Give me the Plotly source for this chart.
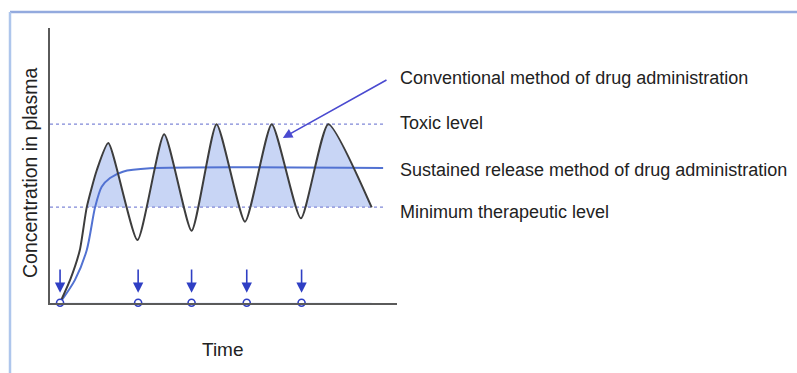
import plotly.graph_objects as go

# Plasma concentration vs time, arbitrary units (0-100 on both axes)
conv_time = [2.9, 5.8, 8.6, 10.6, 13.5, 16.8, 25.2, 32.9, 40.8, 48.0, 56.2, 63.9, 72.3, 80.2, 92.7]
conv_conc = [0.0, 8.3, 19.2, 34.8, 48.3, 58.1, 22.8, 61.3, 26.2, 65.0, 29.5, 65.0, 30.7, 65.0, 34.7]

sr_time = [2.9, 7.2, 10.6, 13.0, 14.9, 17.3, 21.0, 28.8, 96.0]
sr_conc = [0.0, 8.3, 19.2, 34.8, 42.2, 45.4, 47.7, 48.9, 49.0]

dose_times = [2.9, 25.4, 40.8, 56.7, 72.5]

toxic_level = 65.0
mtl_level = 34.8
level_span = [0.0, 96.0]

label_texts = [
    "Conventional method of drug administration",
    "Toxic level",
    "Sustained release method of drug administration",
    "Minimum therapeutic level",
]
label_conc = [81.8, 65.3, 48.3, 33.0]

pointer_tip = (67.1, 60.0)
pointer_tail = (97.4, 81.4)

x_title = "Time"
y_title = "Concentration in plasma"

W, H = 797, 373
X0, X1 = 50, 397        # plot area, px
Y0, Y1 = 302.7, 28
FONT = "Liberation Sans, Arial, sans-serif"
TEXT = "#222222"
DARK = "#3d3d3d"
BLUE = "#2f3fc4"
SR_BLUE = "#5272d2"
LEVEL_BLUE = "#8088d8"
FILL = "#c8d5f5"
SMOOTH = 0.55


def conc_to_paper(c):
    py = Y0 - c * (Y0 - Y1) / 100.0
    return (H - py) / H


fig = go.Figure()

# light fill under the conventional curve...
fig.add_trace(go.Scatter(
    x=conv_time, y=conv_conc, mode="lines",
    line=dict(width=0, shape="spline", smoothing=SMOOTH),
    fill="tozeroy", fillcolor=FILL, hoverinfo="skip",
))
# ...kept only above the minimum therapeutic level
fig.add_trace(go.Scatter(
    x=level_span, y=[mtl_level, mtl_level], mode="lines",
    line=dict(width=0), fill="tozeroy", fillcolor="white", hoverinfo="skip",
))

for lvl in (toxic_level, mtl_level):
    fig.add_trace(go.Scatter(
        x=level_span, y=[lvl, lvl], mode="lines",
        line=dict(color=LEVEL_BLUE, width=1.2, dash="dot"), hoverinfo="skip",
    ))

fig.add_trace(go.Scatter(
    x=sr_time, y=sr_conc, mode="lines",
    line=dict(color=SR_BLUE, width=2, shape="spline", smoothing=0.8),
    hoverinfo="skip",
))

fig.add_trace(go.Scatter(
    x=conv_time, y=conv_conc, mode="lines",
    line=dict(color=DARK, width=2, shape="spline", smoothing=SMOOTH),
    hoverinfo="skip",
))

fig.add_trace(go.Scatter(
    x=dose_times, y=[0] * len(dose_times), mode="markers",
    marker=dict(symbol="circle", size=7, color="white", line=dict(color=BLUE, width=1.6)),
    cliponaxis=False, hoverinfo="skip",
))

annotations = []
for t in dose_times:
    annotations.append(dict(
        x=t, y=3.6, xref="x", yref="y", ax=t, ay=12.6, axref="x", ayref="y",
        text="", showarrow=True, arrowhead=2, arrowsize=1.3, arrowwidth=1.6,
        arrowcolor=BLUE,
    ))

for txt, c in zip(label_texts, label_conc):
    annotations.append(dict(
        x=398 / W, y=conc_to_paper(c), xref="paper", yref="paper", text=txt,
        showarrow=False, xanchor="left", yanchor="middle",
        font=dict(family=FONT, size=18, color=TEXT),
    ))

annotations.append(dict(
    x=pointer_tip[0], y=pointer_tip[1], xref="x", yref="y",
    ax=pointer_tail[0], ay=pointer_tail[1], axref="x", ayref="y",
    text="", showarrow=True, arrowhead=2, arrowsize=1.2, arrowwidth=1.6,
    arrowcolor="#4a4ad0",
))

annotations.append(dict(
    x=223 / W, y=(H - 349) / H, xref="paper", yref="paper", text=x_title,
    xanchor="center", yanchor="middle",
    showarrow=False, font=dict(family=FONT, size=19, color=TEXT),
))
annotations.append(dict(
    x=30 / W, y=(H - 173) / H, xref="paper", yref="paper", text=y_title,
    xanchor="center", yanchor="middle",
    textangle=-90, showarrow=False, font=dict(family=FONT, size=19.5, color=TEXT),
))

shapes = [
    # panel frame
    dict(type="line", xref="paper", yref="paper", x0=10 / W, x1=1, y0=(H - 12) / H, y1=(H - 12) / H,
         line=dict(color="#93aade", width=2.5)),
    dict(type="line", xref="paper", yref="paper", x0=10 / W, x1=10 / W, y0=0, y1=(H - 12) / H,
         line=dict(color="#aec6ec", width=2.5)),
]

axis_common = dict(showgrid=False, zeroline=False, showticklabels=False, ticks="",
                   showline=True, linecolor="#5a5a5a", linewidth=2, fixedrange=True)

fig.update_layout(
    width=W, height=H, margin=dict(l=0, r=0, t=0, b=0),
    paper_bgcolor="white", plot_bgcolor="white", showlegend=False,
    xaxis=dict(domain=[X0 / W, X1 / W], range=[0, 100], **axis_common),
    yaxis=dict(domain=[(H - Y0) / H, (H - Y1) / H], range=[0, 100], **axis_common),
    annotations=annotations, shapes=shapes,
)

fig.write_html("out.html", config={"displayModeBar": False})
